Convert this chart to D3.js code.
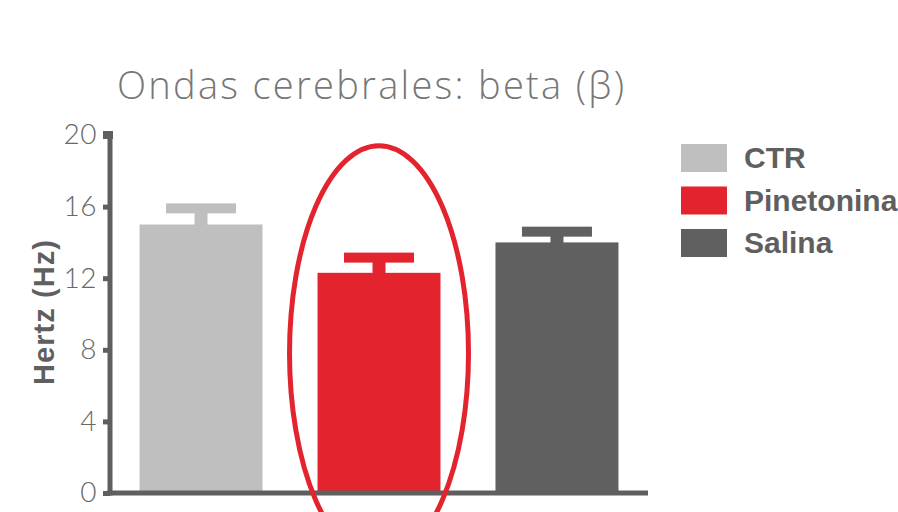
<!DOCTYPE html>
<html>
<head>
<meta charset="utf-8">
<script src="https://cdn.jsdelivr.net/npm/d3@7"></script>
<style>
  html, body { margin: 0; padding: 0; background: #ffffff; }
  svg { display: block; }
</style>
</head>
<body>
<div id="chart"></div>
<script>
// ---- data ----
const categories = ["CTR", "Pinetonina", "Salina"];
const values = [15.0, 12.3, 14.0];
const errors = [0.9, 0.85, 0.6];
const colors = ["#c0bfc0", "#e3242f", "#606060"];
const yTicks = [0, 4, 8, 12, 16, 20];
const titleText = "Ondas cerebrales: beta (β)";
const yLabel = "Hertz (Hz)";
const highlightCategory = "Pinetonina";
const highlightRange = [-3.8, 19.4];

// ---- layout ----
const W = 898, H = 512;
const axisColor = "#5f5f5f";
const svg = d3.select("#chart").append("svg").attr("width", W).attr("height", H);

const x = d3.scaleBand().domain(categories).range([110, 648])
  .paddingInner(0.309).paddingOuter(0.166);
const y = d3.scaleLinear().domain([0, 20]).range([493, 135]);

// title
svg.append("text")
  .attr("x", 117).attr("y", 99)
  .attr("font-family", "'Open Sans', Lato, sans-serif")
  .attr("font-weight", 300)
  .attr("font-size", 38)
  .attr("textLength", 507)
  .attr("lengthAdjust", "spacing")
  .attr("fill", "#777777")
  .text(titleText);

// bars
svg.append("g").selectAll("rect").data(categories).join("rect")
  .attr("x", d => x(d))
  .attr("y", (d, i) => y(values[i]))
  .attr("width", x.bandwidth())
  .attr("height", (d, i) => y(0) - y(values[i]))
  .attr("fill", (d, i) => colors[i]);

// error bars
const capW = 70, capT = 10, stemW = 13;
const eb = svg.append("g");
categories.forEach((c, i) => {
  const cx = x(c) + x.bandwidth() / 2;
  const top = y(values[i] + errors[i]);
  eb.append("rect").attr("x", cx - stemW / 2).attr("y", top)
    .attr("width", stemW).attr("height", y(values[i]) - top + 1).attr("fill", colors[i]);
  eb.append("rect").attr("x", cx - capW / 2).attr("y", top - capT / 2)
    .attr("width", capW).attr("height", capT).attr("fill", colors[i]);
});

// y axis
const yAxis = d3.axisLeft(y).tickValues(yTicks).tickSize(7).tickPadding(6);
const gy = svg.append("g").attr("transform", "translate(110,0)").call(yAxis);
gy.select(".domain").remove();
gy.selectAll(".tick line").attr("stroke", axisColor).attr("stroke-width", 5);
gy.selectAll(".tick text")
  .attr("font-family", "Lato, 'Open Sans', sans-serif")
  .attr("font-weight", 300)
  .attr("font-size", 28)
  .attr("letter-spacing", 0.5)
  .attr("fill", "#686868");
svg.append("line").attr("x1", 110).attr("x2", 110)
  .attr("y1", y(20) - 4).attr("y2", y(0) + 2.5)
  .attr("stroke", axisColor).attr("stroke-width", 5);
svg.append("rect").attr("x", 103).attr("y", y(20) - 4).attr("width", 10).attr("height", 8)
  .attr("fill", axisColor);

// x axis line
svg.append("line").attr("x1", 107).attr("x2", 648)
  .attr("y1", y(0)).attr("y2", y(0))
  .attr("stroke", axisColor).attr("stroke-width", 5);

// y label
svg.append("text")
  .attr("transform", `translate(54,${(y(0) + y(20)) / 2 - 1}) rotate(-90)`)
  .attr("x", -72)
  .attr("font-family", "'Liberation Sans', Arial, sans-serif")
  .attr("font-weight", 700)
  .attr("font-size", 29)
  .attr("textLength", 145)
  .attr("lengthAdjust", "spacing")
  .attr("fill", axisColor)
  .text(yLabel);

// highlight ellipse
const hx = x(highlightCategory) + x.bandwidth() / 2;
svg.append("ellipse")
  .attr("cx", hx)
  .attr("cy", (y(highlightRange[0]) + y(highlightRange[1])) / 2)
  .attr("rx", x.bandwidth() / 2 + 28)
  .attr("ry", (y(highlightRange[0]) - y(highlightRange[1])) / 2)
  .attr("fill", "none")
  .attr("stroke", "#e3242f")
  .attr("stroke-width", 5);

// legend
const lg = svg.append("g").attr("transform", "translate(681,144)");
categories.forEach((c, i) => {
  const g = lg.append("g").attr("transform", `translate(0,${i * 42.5})`);
  g.append("rect").attr("width", 46).attr("height", 28).attr("fill", colors[i]);
  g.append("text").attr("x", 63).attr("y", 24)
    .attr("font-family", "'Liberation Sans', Arial, sans-serif")
    .attr("font-weight", 700)
    .attr("font-size", 30)
    .attr("fill", axisColor)
    .text(c);
});
</script>
</body>
</html>
